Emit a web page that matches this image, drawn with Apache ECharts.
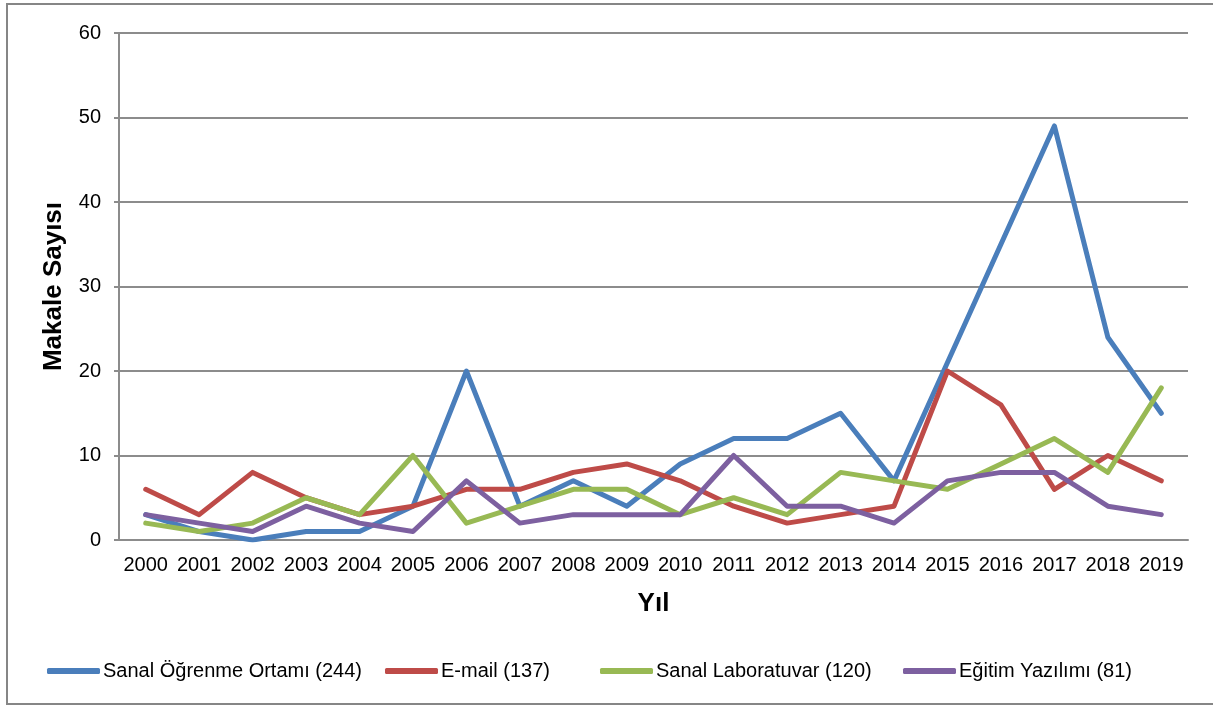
<!DOCTYPE html>
<html>
<head>
<meta charset="utf-8">
<script src="https://cdn.jsdelivr.net/npm/echarts@6/dist/echarts.min.js"></script>
<style>
  html, body { margin: 0; padding: 0; background: #fff; }
  #chart { width: 1213px; height: 705px; }
</style>
</head>
<body>
<div id="chart"></div>
<script>
// Years on the category axis
const years = ['2000','2001','2002','2003','2004','2005','2006','2007','2008','2009',
               '2010','2011','2012','2013','2014','2015','2016','2017','2018','2019'];

// Article counts per year for each topic
const sanalOgrenme   = [3, 1, 0, 1, 1, 4, 20, 4, 7, 4, 9, 12, 12, 15, 7, 21, 35, 49, 24, 15];
const email          = [6, 3, 8, 5, 3, 4, 6, 6, 8, 9, 7, 4, 2, 3, 4, 20, 16, 6, 10, 7];
const sanalLab       = [2, 1, 2, 5, 3, 10, 2, 4, 6, 6, 3, 5, 3, 8, 7, 6, 9, 12, 8, 18];
const egitimYazilimi = [3, 2, 1, 4, 2, 1, 7, 2, 3, 3, 3, 10, 4, 4, 2, 7, 8, 8, 4, 3];

const seriesNames = [
  'Sanal Öğrenme Ortamı (244)',
  'E-mail (137)',
  'Sanal Laboratuvar (120)',
  'Eğitim Yazılımı (81)'
];
const seriesData = [sanalOgrenme, email, sanalLab, egitimYazilimi];
const colors = ['#4a7ebb', '#be4b48', '#98b954', '#7d60a0'];

// Left edge of each legend entry along the bottom row
const legendLefts = [47, 385, 600, 903];

const font = 'Arial, "Liberation Sans", Helvetica, sans-serif';
const chart = echarts.init(document.getElementById('chart'), null, { renderer: 'canvas' });

chart.setOption({
  animation: false,
  backgroundColor: '#ffffff',
  color: colors,
  graphic: [{
    type: 'rect',
    shape: { x: 7, y: 4, width: 1220, height: 700 },
    style: { fill: 'none', stroke: '#868686', lineWidth: 2 },
    silent: true,
    z: -1
  }],
  grid: { left: 119, right: 25, top: 33, bottom: 165, containLabel: false },
  legend: seriesNames.map((name, i) => ({
    left: legendLefts[i],
    top: 661,
    padding: 0,
    itemWidth: 53,
    itemHeight: 6,
    icon: 'roundRect',
    textStyle: { fontFamily: font, fontSize: 20, color: '#000', padding: [0, 0, 0, -2] },
    data: [name]
  })),
  xAxis: {
    type: 'category',
    data: years,
    boundaryGap: true,
    name: 'Yıl',
    nameLocation: 'middle',
    nameGap: 51,
    nameTextStyle: { fontFamily: font, fontSize: 26, fontWeight: 'bold', color: '#000' },
    axisLine: { lineStyle: { color: '#8c8c8c', width: 2 } },
    axisTick: { show: false },
    axisLabel: { fontFamily: font, fontSize: 20, color: '#000', margin: 15, interval: 0, hideOverlap: false },
    splitLine: { show: false }
  },
  yAxis: {
    type: 'value',
    min: 0,
    max: 60,
    interval: 10,
    name: 'Makale Sayısı',
    nameLocation: 'middle',
    nameGap: 52,
    nameTextStyle: { fontFamily: font, fontSize: 26, fontWeight: 'bold', color: '#000' },
    axisLine: { show: true, lineStyle: { color: '#8c8c8c', width: 2 } },
    axisTick: { show: true, length: 5, lineStyle: { color: '#8c8c8c', width: 2 } },
    axisLabel: { fontFamily: font, fontSize: 20, color: '#000', margin: 18 },
    splitLine: { lineStyle: { color: '#8c8c8c', width: 2 } }
  },
  series: seriesData.map((d, i) => ({
    name: seriesNames[i],
    type: 'line',
    data: d,
    symbol: 'none',
    lineStyle: { width: 5, color: colors[i], cap: 'round', join: 'round' },
    itemStyle: { color: colors[i] }
  }))
});
</script>
</body>
</html>
